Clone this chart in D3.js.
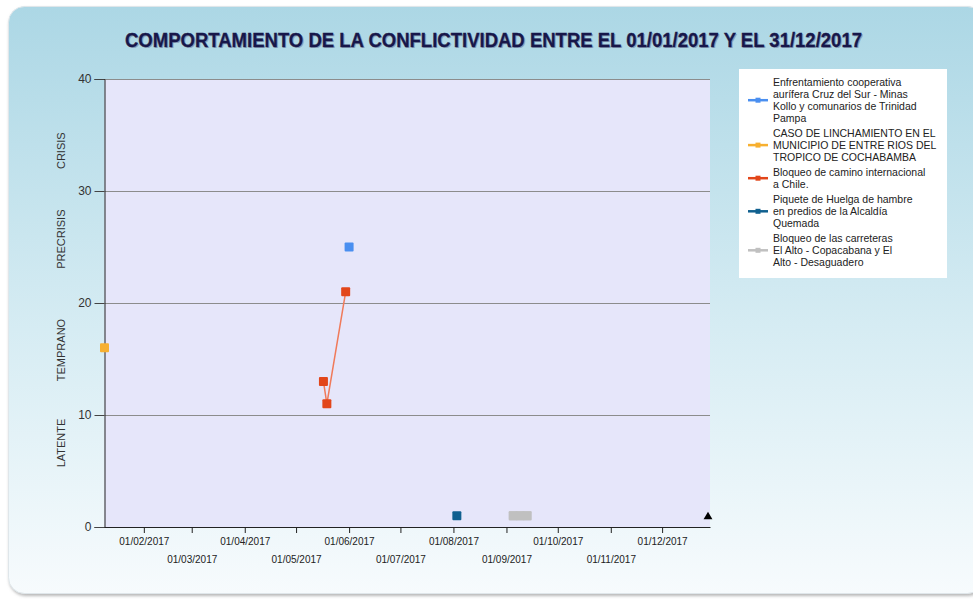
<!DOCTYPE html>
<html><head><meta charset="utf-8">
<script src="https://cdn.jsdelivr.net/npm/d3@7"></script>
<style>html,body{margin:0;padding:0;background:#fff;}svg{display:block;}</style>
</head><body>
<script>
// ---- data ----
const chartTitle = "COMPORTAMIENTO DE LA CONFLICTIVIDAD ENTRE EL 01/01/2017 Y EL 31/12/2017";
const xDomain = ["2017-01-09", "2017-12-29"];
const xTickDates = ["2017-02-01","2017-03-01","2017-04-01","2017-05-01","2017-06-01","2017-07-01","2017-08-01","2017-09-01","2017-10-01","2017-11-01","2017-12-01"];
const xTickLabels = ["01/02/2017","01/03/2017","01/04/2017","01/05/2017","01/06/2017","01/07/2017","01/08/2017","01/09/2017","01/10/2017","01/11/2017","01/12/2017"];
const yTicks = [0, 10, 20, 30, 40];
const levelLabels = ["CRISIS", "PRECRISIS", "TEMPRANO", "LATENTE"];
const levelCenters = [33.6, 25.7, 15.8, 7.5];
const seriesNames = [
  "Enfrentamiento cooperativa aurifera Cruz del Sur - Minas Kollo y comunarios de Trinidad Pampa",
  "CASO DE LINCHAMIENTO EN EL MUNICIPIO DE ENTRE RIOS DEL TROPICO DE COCHABAMBA",
  "Bloqueo de camino internacional a Chile.",
  "Piquete de Huelga de hambre en predios de la Alcaldía Quemada",
  "Bloqueo de las carreteras El Alto - Copacabana y El Alto - Desaguadero"
];
const legendLines = [
  ["Enfrentamiento cooperativa", "aurífera Cruz del Sur - Minas", "Kollo y comunarios de Trinidad", "Pampa"],
  ["CASO DE LINCHAMIENTO EN EL", "MUNICIPIO DE ENTRE RIOS DEL", "TROPICO DE COCHABAMBA"],
  ["Bloqueo de camino internacional", "a Chile."],
  ["Piquete de Huelga de hambre", "en predios de la Alcaldía", "Quemada"],
  ["Bloqueo de las carreteras", "El Alto - Copacabana y El", "Alto - Desaguadero"]
];
const seriesColors = ["#4a8ff0", "#f7b030", "#e2461a", "#10608f", "#c0c0c0"];
const lineColors = ["#4a8ff0", "#f7b030", "#f07a5a", "#10608f", "#c0c0c0"];
const s1Dates = ["2017-06-01"];               const s1Values = [25];
const s2Dates = ["2017-01-09"];               const s2Values = [16];
const s3Dates = ["2017-05-17","2017-05-19","2017-05-30"]; const s3Values = [13, 11, 21];
const s4Dates = ["2017-08-03"];               const s4Values = [1];
const s5Dates = ["2017-09-05","2017-09-09","2017-09-13"]; const s5Values = [1, 1, 1];
const seriesDates = [s1Dates, s2Dates, s3Dates, s4Dates, s5Dates];
const seriesValues = [s1Values, s2Values, s3Values, s4Values, s5Values];
const endMarkerValue = 1;

// ---- drawing ----
const W = 973, H = 599;
const parse = d3.timeParse("%Y-%m-%d");
const svg = d3.select("body").append("svg").attr("width", W).attr("height", H);
const defs = svg.append("defs");
const grad = defs.append("linearGradient").attr("id","bg").attr("x1",0).attr("y1",0).attr("x2",0).attr("y2",1);
grad.append("stop").attr("offset","0%").attr("stop-color","#acd7e5");
grad.append("stop").attr("offset","55%").attr("stop-color","#d6ecf3");
grad.append("stop").attr("offset","100%").attr("stop-color","#f7fbfd");
const sh = defs.append("filter").attr("id","sh").attr("x","-5%").attr("y","-5%").attr("width","110%").attr("height","115%");
sh.append("feDropShadow").attr("dx",1).attr("dy",2).attr("stdDeviation",1.5).attr("flood-color","#888").attr("flood-opacity",0.6);

svg.append("rect").attr("x",8.5).attr("y",6.5).attr("width",975).attr("height",587)
  .attr("rx",16).attr("fill","url(#bg)").attr("stroke","#dfe6ea").attr("filter","url(#sh)");

// title
const tx = 493.5, ty = 47;
svg.append("text").attr("x",tx+1.2).attr("y",ty+1.2).attr("text-anchor","middle")
  .attr("font-family","'Liberation Sans Narrow','Liberation Sans',Arial,sans-serif").attr("font-weight","bold")
  .attr("font-size",20).attr("fill","#8aa0b8").attr("textLength",737).attr("lengthAdjust","spacingAndGlyphs").text(chartTitle);
svg.append("text").attr("x",tx).attr("y",ty).attr("text-anchor","middle")
  .attr("font-family","'Liberation Sans Narrow','Liberation Sans',Arial,sans-serif").attr("font-weight","bold")
  .attr("font-size",20).attr("fill","#17174a").attr("stroke","#17174a").attr("stroke-width",0.3)
  .attr("textLength",737).attr("lengthAdjust","spacingAndGlyphs").text(chartTitle);

const L = 104.5, R = 710, T = 79, B = 527;
const x = d3.scaleTime().domain(xDomain.map(parse)).range([L, R]);
const y = d3.scaleLinear().domain([0, 40]).range([B, T]);

svg.append("rect").attr("x",L).attr("y",T).attr("width",R-L).attr("height",B-T).attr("fill","#e6e6fa");

// grid
svg.append("g").selectAll("line").data(yTicks.filter(d => d > 0)).join("line")
  .attr("x1",L).attr("x2",R).attr("y1",d => Math.round(y(d))+0.5).attr("y2",d => Math.round(y(d))+0.5)
  .attr("stroke","#8c8c8c").attr("stroke-width",1);

// y axis
const yAxis = svg.append("g").attr("transform",`translate(${L},0)`)
  .call(d3.axisLeft(y).tickValues(yTicks).tickSize(10).tickPadding(3).tickFormat(d3.format("d")));
yAxis.select(".domain").attr("stroke","#222");
yAxis.selectAll(".tick line").attr("stroke","#444");
yAxis.selectAll("text").attr("font-family","'Liberation Sans',Arial,sans-serif").attr("font-size",12).attr("fill","#333");

// x axis
const xAxis = svg.append("g").attr("transform",`translate(0,${B})`)
  .call(d3.axisBottom(x).tickValues(xTickDates.map(parse)).tickSize(6).tickSizeOuter(0)
    .tickFormat((d,i) => xTickLabels[i]));
xAxis.select(".domain").attr("stroke","#222");
xAxis.selectAll(".tick line").attr("stroke","#222");
xAxis.selectAll("text").attr("font-family","'Liberation Sans',Arial,sans-serif").attr("font-size",10).attr("fill","#222")
  .attr("y",(d,i) => i % 2 === 0 ? 11 : 29);

// level labels
svg.append("g").selectAll("text").data(levelLabels).join("text")
  .attr("transform",(d,i) => `translate(65,${y(levelCenters[i])}) rotate(-90)`)
  .attr("text-anchor","middle").attr("font-family","'Liberation Sans',Arial,sans-serif")
  .attr("font-size",11).attr("fill","#333").text(d => d);

// series
const line = d3.line().x(d => x(d.date)).y(d => y(d.value));
seriesNames.forEach((name, si) => {
  const pts = seriesDates[si].map((d,i) => ({date: parse(d), value: seriesValues[si][i]}));
  const g = svg.append("g");
  g.selectAll("rect").data(pts).join("rect")
    .attr("x", d => x(d.date) - 4.5).attr("y", d => y(d.value) - 4.5)
    .attr("width", 9).attr("height", 9).attr("rx", 1)
    .attr("fill", seriesColors[si]);
  if (pts.length > 1) {
    const p = g.append("path").datum(pts).attr("d", line).attr("fill","none")
      .attr("stroke", lineColors[si]).attr("stroke-width", si === 4 ? 9 : 1.5);
    if (si === 4) p.attr("stroke-linecap","square"); else p.lower();
  }
});

// end marker
svg.append("path").attr("d", d3.symbol().type(d3.symbolTriangle).size(34)())
  .attr("transform", `translate(${x(parse(xDomain[1])) - 2},${y(endMarkerValue) + 1})`).attr("fill","#000");

// legend
const lg = svg.append("g");
lg.append("rect").attr("x",739).attr("y",69).attr("width",208).attr("height",209).attr("fill","#fff");
const lineH = 11.8, gap = 3.6;
let cy = 82.5;
legendLines.forEach((lines, si) => {
  const n = lines.length;
  const mid = cy + (n - 1) * lineH / 2;
  lg.append("line").attr("x1",748).attr("x2",768).attr("y1",mid).attr("y2",mid)
    .attr("stroke", seriesColors[si]).attr("stroke-width",2.5);
  lg.append("rect").attr("x",755.5).attr("y",mid-2.5).attr("width",5).attr("height",5).attr("fill",seriesColors[si]);
  lines.forEach((t, j) => {
    lg.append("text").attr("x",773).attr("y",cy + j*lineH).attr("dy","0.35em")
      .attr("font-family","'Liberation Sans',Arial,sans-serif").attr("font-size",10.5).attr("fill","#222").text(t);
  });
  cy += n * lineH + gap;
});
</script>
</body></html>
